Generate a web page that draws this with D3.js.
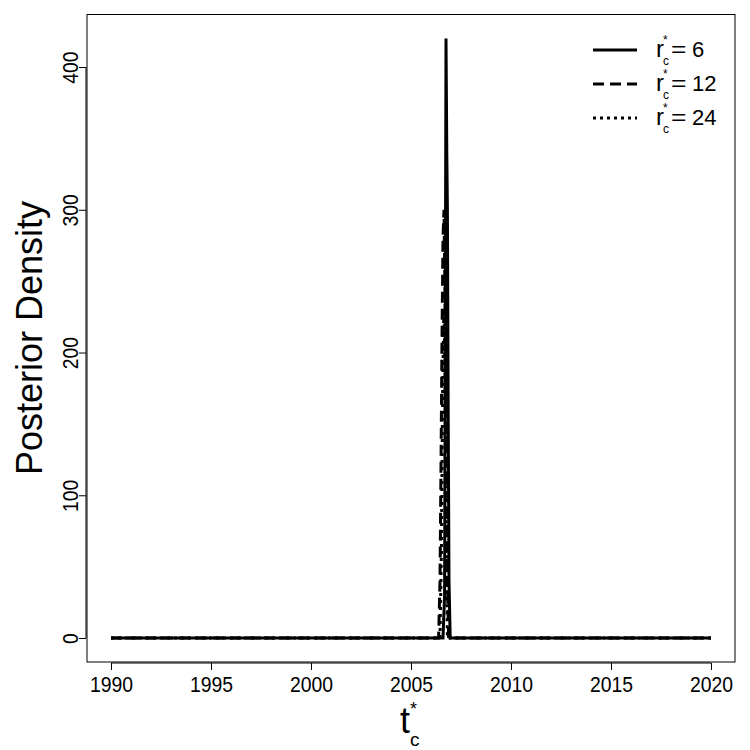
<!DOCTYPE html>
<html>
<head>
<meta charset="utf-8">
<script src="https://cdn.jsdelivr.net/npm/d3@7"></script>
<style>
  html, body { margin: 0; padding: 0; background: #fff; }
  svg { display: block; font-family: "Liberation Sans", Arial, sans-serif; }
</style>
</head>
<body>
<svg id="chart" width="750" height="750"></svg>
<script>
// ---- data ----
const seriesNames = ["6", "12", "24"];
const yearsR6 = [1990, 2006.6, 2006.68, 2006.72, 2006.75, 2006.79, 2006.82, 2006.86, 2006.9, 2006.96, 2020];
const densR6  = [0,    0,      30,      250,     420,     340,     300,     155,     40,      0,       0];
const yearsR12 = [1990, 2006.38, 2006.45, 2006.5, 2006.55, 2006.6, 2006.65, 2006.7, 2006.76, 2006.82, 2006.88, 2020];
const densR12  = [0,    0,       40,      120,    210,     280,    300,     240,    120,     40,      0,       0];
const yearsR24 = [1990, 2006.45, 2006.52, 2006.58, 2006.64, 2006.7, 2006.76, 2006.82, 2020];
const densR24  = [0,    0,       60,      170,     230,     190,    80,      0,       0];
const xTicks = [1990, 1995, 2000, 2005, 2010, 2015, 2020];
const yTicks = [0, 100, 200, 300, 400];
const dashStyles = [null, "11,6", "3,4"];

const FONT = "Liberation Sans, Arial, sans-serif";
const svg = d3.select("#chart");
const x = d3.scaleLinear().domain([1988.8, 2021.2]).range([87, 735]);
const y = d3.scaleLinear().domain([-16.8, 436.8]).range([662, 14.5]);

// plot box
svg.append("rect").attr("x", 87).attr("y", 14.5).attr("width", 648).attr("height", 647.5)
  .attr("fill", "none").attr("stroke", "#000").attr("stroke-width", 1);

// axes
const xAxis = d3.axisBottom(x).tickValues(xTicks).tickSize(7).tickFormat(d3.format("d"));
const gx = svg.append("g").attr("transform", "translate(0,663)").call(xAxis);
gx.select(".domain").attr("d", `M${x(1990)},0H${x(2020)}`);
gx.selectAll("line").attr("stroke", "#000");
gx.selectAll(".tick text")
  .attr("y", 0).attr("dy", null)
  .attr("transform", "translate(0,29) scale(0.88,1)")
  .attr("font-size", 22).attr("font-family", FONT).attr("fill", "#000");

const yAxis = d3.axisLeft(y).tickValues(yTicks).tickSize(7);
const gy = svg.append("g").attr("transform", "translate(86,0)").call(yAxis);
gy.select(".domain").attr("d", `M0,${y(0)}V${y(400)}`);
gy.selectAll("line").attr("stroke", "#000");
gy.selectAll(".tick text")
  .attr("x", 0).attr("y", 0).attr("dy", null).attr("text-anchor", "middle")
  .attr("transform", "translate(-8,0) rotate(-90) scale(0.88,1)")
  .attr("font-size", 22).attr("font-family", FONT).attr("fill", "#000");

// lines
const line = d3.line().x(d => x(d[0])).y(d => y(d[1]));
const allSeries = [
  d3.zip(yearsR6, densR6),
  d3.zip(yearsR12, densR12),
  d3.zip(yearsR24, densR24)
];
allSeries.forEach((s, i) => {
  svg.append("path").datum(s).attr("d", line).attr("fill", "none")
    .attr("stroke", "#000").attr("stroke-width", 3)
    .attr("stroke-dasharray", dashStyles[i]);
});

// legend
const legY = [50, 84, 118];
seriesNames.forEach((n, i) => {
  const ly = legY[i];
  svg.append("line").attr("x1", 593).attr("x2", 637).attr("y1", ly).attr("y2", ly)
    .attr("stroke", "#000").attr("stroke-width", 3).attr("stroke-dasharray", dashStyles[i]);
  svg.append("text").attr("x", 656).attr("y", ly + 7).attr("font-size", 24).text("r");
  svg.append("text").attr("x", 663).attr("y", ly - 6).attr("font-size", 12).text("*");
  svg.append("text").attr("x", 663).attr("y", ly + 15).attr("font-size", 12).text("c");
  svg.append("text").attr("x", 671).attr("y", ly + 7).attr("font-size", 22)
    .attr("transform", `translate(671,0) scale(1.2,1) translate(-671,0)`).text("=");
  svg.append("text").attr("x", 692).attr("y", ly + 7).attr("font-size", 22).text(n);
});

// axis titles
svg.append("text").attr("transform", "translate(42,338) rotate(-90)")
  .attr("text-anchor", "middle").attr("font-size", 36).text("Posterior Density");
svg.append("text").attr("x", 400).attr("y", 733).attr("font-size", 36).text("t");
svg.append("text").attr("x", 410).attr("y", 715).attr("font-size", 18).text("*");
svg.append("text").attr("x", 410).attr("y", 746).attr("font-size", 19).text("c");
</script>
</body>
</html>
